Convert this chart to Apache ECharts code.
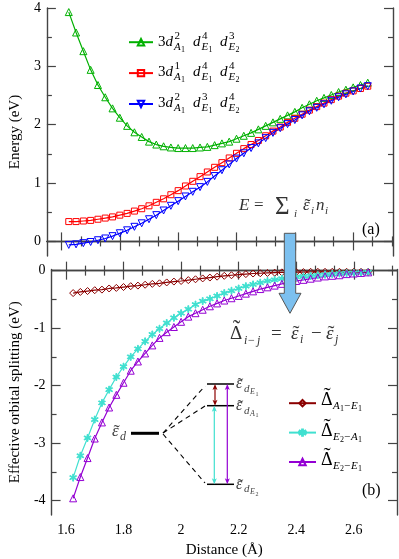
<!DOCTYPE html>
<html>
<head>
<meta charset="utf-8">
<script src="https://cdn.jsdelivr.net/npm/echarts@6/dist/echarts.min.js"></script>
<style>
html, body { margin: 0; padding: 0; background: #fff; }
#chart { width: 399px; height: 559px; }
</style>
</head>
<body>
<div id="chart"></div>
<script>
// Distance (Å)
const dist = [1.625, 1.65, 1.675, 1.7, 1.725, 1.75, 1.775, 1.8, 1.825, 1.85, 1.875, 1.9, 1.925, 1.95, 1.975, 2.0,
	2.025, 2.05, 2.075, 2.1, 2.125, 2.15, 2.175, 2.2, 2.225, 2.25, 2.275, 2.3, 2.325, 2.35, 2.375, 2.4,
	2.425, 2.45, 2.475, 2.5, 2.525, 2.55, 2.575, 2.6, 2.625, 2.65];

// (a) energies (eV)
const eGreen = [3.93, 3.58, 3.26, 2.94, 2.68, 2.47, 2.28, 2.12, 1.98, 1.87, 1.79, 1.71, 1.66, 1.63, 1.61, 1.60,
	1.60, 1.60, 1.61, 1.62, 1.65, 1.68, 1.71, 1.76, 1.81, 1.86, 1.92, 1.98, 2.04, 2.10, 2.16, 2.22,
	2.29, 2.35, 2.41, 2.46, 2.51, 2.56, 2.60, 2.64, 2.68, 2.72];
const eRed = [0.34, 0.34, 0.35, 0.36, 0.38, 0.40, 0.42, 0.45, 0.48, 0.52, 0.56, 0.61, 0.67, 0.73, 0.80, 0.87,
	0.95, 1.03, 1.11, 1.19, 1.27, 1.35, 1.43, 1.51, 1.59, 1.66, 1.73, 1.81, 1.89, 1.96, 2.04, 2.11,
	2.18, 2.25, 2.31, 2.37, 2.43, 2.49, 2.54, 2.58, 2.62, 2.66];
const eBlue = [-0.06, -0.05, -0.03, -0.01, 0.02, 0.05, 0.09, 0.14, 0.19, 0.25, 0.31, 0.38, 0.45, 0.53, 0.61, 0.69,
	0.77, 0.85, 0.93, 1.02, 1.12, 1.22, 1.32, 1.42, 1.51, 1.60, 1.68, 1.77, 1.86, 1.94, 2.01, 2.08,
	2.16, 2.23, 2.29, 2.35, 2.41, 2.47, 2.52, 2.57, 2.62, 2.66];

// (b) effective orbital splitting (eV)
const dA1E1 = [-0.39, -0.37, -0.355, -0.34, -0.33, -0.31, -0.30, -0.285, -0.27, -0.26, -0.245, -0.23, -0.22, -0.205, -0.19, -0.18,
	-0.165, -0.15, -0.135, -0.12, -0.105, -0.09, -0.08, -0.07, -0.06, -0.05, -0.045, -0.04, -0.035, -0.03, -0.03, -0.025,
	-0.025, -0.02, -0.02, -0.02, -0.02, -0.02, -0.02, -0.02, -0.02, -0.02];
const dE2A1 = [-3.60, -3.22, -2.91, -2.59, -2.30, -2.07, -1.85, -1.67, -1.50, -1.36, -1.23, -1.11, -1.01, -0.91, -0.82, -0.74,
	-0.67, -0.59, -0.53, -0.49, -0.44, -0.39, -0.35, -0.31, -0.27, -0.24, -0.21, -0.18, -0.16, -0.14, -0.12, -0.11,
	-0.10, -0.09, -0.08, -0.07, -0.06, -0.05, -0.045, -0.04, -0.035, -0.03];
const dE2E1 = [-3.96, -3.59, -3.26, -2.92, -2.64, -2.38, -2.16, -1.95, -1.74, -1.58, -1.44, -1.30, -1.17, -1.07, -0.98, -0.89,
	-0.80, -0.74, -0.68, -0.62, -0.57, -0.52, -0.48, -0.44, -0.40, -0.36, -0.32, -0.29, -0.26, -0.23, -0.20, -0.18,
	-0.16, -0.14, -0.12, -0.10, -0.09, -0.08, -0.06, -0.05, -0.04, -0.03];

// ticks
const xMajor = [1.6, 1.8, 2.0, 2.2, 2.4, 2.6];
const xMinor = [1.6667, 1.7333, 1.8667, 1.9333, 2.0667, 2.1333, 2.2667, 2.3333, 2.4667, 2.5333, 2.6667, 2.7333];
const yMajorA = [0, 1, 2, 3, 4];
const yMinorA = [0.5, 1.5, 2.5, 3.5];
const yMajorB = [-4, -3, -2, -1, 0];
const yMinorB = [-3.5, -2.5, -1.5, -0.5];

const FONT = 'Liberation Serif';
const FRAME = '#444';
const pairs = (ys) => dist.map((x, i) => [x, ys[i]]);

// 四条轴：主刻度/次刻度 × 两侧
const axisSet = (gi, min, max, major, minor, sides, label) => {
	const base = { type: 'value', gridIndex: gi, min: min, max: max, splitLine: { show: false } };
	const out = [];
	sides.forEach((side, si) => {
		out.push(Object.assign({}, base, {
			position: side,
			axisLine: { show: true, lineStyle: { color: FRAME, width: 1.4 } },
			axisTick: { inside: true, length: 9, customValues: major, lineStyle: { color: FRAME, width: 1.2 } },
			axisLabel: si === 0 && label.show
				? { customValues: major, color: '#000', fontFamily: FONT, fontSize: 14, margin: label.margin }
				: { show: false },
			name: si === 0 ? label.name : '',
			nameLocation: 'middle',
			nameGap: label.nameGap,
			nameTextStyle: { fontFamily: FONT, fontSize: 15, color: '#000' }
		}));
		out.push(Object.assign({}, base, {
			position: side,
			axisLine: { show: false },
			axisTick: { inside: true, length: 5, customValues: minor, lineStyle: { color: FRAME, width: 1.2 } },
			axisLabel: { show: false }
		}));
	});
	return out;
};

// 文字片段：[text, dx, dy, size, italic, align]
const mathText = (x, y, parts, color) => ({
	type: 'group', x: x, y: y, z: 60,
	children: parts.map(p => ({
		type: 'text', x: p[1], y: p[2],
		style: {
			text: p[0], fontSize: p[3], fontStyle: p[4] ? 'italic' : 'normal', fontFamily: FONT,
			fill: color || '#000', align: p[5] || 'left', verticalAlign: 'middle'
		}
	}))
});
// 小写字母上的波浪号 / 大写 Δ 上的波浪号
const tl = (dx, dy, fs) => ['˜', dx, dy + fs * 0.05, fs * 1.1, 0, 'center'];
const tc = (dx, dy, fs) => ['˜', dx, dy - fs * 0.2, fs * 1.2, 0, 'center'];

const cfgLabel = (a, e1, e2) => [
	['3', 0, 0, 15], ['d', 7.5, 0, 15, 1], [a, 16.5, -6, 11], ['A', 16, 5, 11, 1], ['1', 23, 8, 8],
	['d', 35, 0, 15, 1], [e1, 44, -6, 11], ['E', 43.5, 5, 11, 1], ['1', 50.5, 8, 8],
	['d', 62, 0, 15, 1], [e2, 71, -6, 11], ['E', 70.5, 5, 11, 1], ['2', 77.5, 8, 8]
];

const deltaLabel = (a, a1, b, b1) => [
	['Δ', 0, 0, 18], tc(6, 0, 18), [a, 12, 6, 11, 1], [a1, 19, 9, 8], ['−', 23, 6, 11], [b, 30, 6, 11, 1], [b1, 37, 9, 8]
];

const epsLevel = (s) => [['ε', 0, 0, 16, 1], tl(4.5, 0, 16), ['d', 8, 5, 11, 1], [s[0], 14, 8, 8, 1], [s[1], 19.5, 10, 6]];

const dblArrow = (x, y1, y2, color) => [
	{ type: 'line', z: 60, shape: { x1: x, y1: y1 + 4, x2: x, y2: y2 - 4 }, style: { stroke: color, lineWidth: 1.2 } },
	{ type: 'polygon', z: 60, shape: { points: [[x, y1], [x - 2.5, y1 + 6], [x, y1 + 4.5], [x + 2.5, y1 + 6]] }, style: { fill: color } },
	{ type: 'polygon', z: 60, shape: { points: [[x, y2], [x - 2.5, y2 - 6], [x, y2 - 4.5], [x + 2.5, y2 - 6]] }, style: { fill: color } }
];

const dashed = (x1, y1, x2, y2) => ({
	type: 'line', z: 60, shape: { x1: x1, y1: y1, x2: x2, y2: y2 },
	style: { stroke: '#000', lineWidth: 1.1, lineDash: [5, 4] }
});
const level = (y) => ({ type: 'line', z: 60, shape: { x1: 207, y1: y, x2: 234, y2: y }, style: { stroke: '#000', lineWidth: 1.5 } });

const starPath = 'path://M-1.2,-10L1.2,-10L1.2,10L-1.2,10Z M8.06,6.04L9.26,3.96L-8.06,-6.04L-9.26,-3.96Z M9.26,-3.96L8.06,-6.04L-9.26,3.96L-8.06,6.04Z';

const lineSeries = (name, gi, ys, color, symbol, size) => ({
	name: name, type: 'line', xAxisIndex: gi * 4, yAxisIndex: gi * 4,
	data: pairs(ys), symbol: symbol, symbolSize: size, showAllSymbol: true,
	lineStyle: { color: color, width: 1.2 },
	itemStyle: { color: symbol === starPath ? color : 'rgba(255,255,255,0)', borderColor: color, borderWidth: 1 },
	emphasis: { disabled: true }, animation: false
});

const chart = echarts.init(document.getElementById('chart'));
chart.setOption({
	backgroundColor: '#fff',
	animation: false,
	grid: [
		{ left: 38, top: 8, width: 355, height: 248 },
		{ left: 38, top: 269.5, width: 359, height: 247 }
	],
	xAxis: [].concat(
		axisSet(0, 1.55, 2.7365, xMajor, xMinor, ['bottom', 'top'], { show: false, name: '' }),
		axisSet(1, 1.55, 2.75, xMajor, xMinor, ['bottom', 'top'], { show: true, margin: 8, name: 'Distance (Å)', nameGap: 28 })
	),
	yAxis: [].concat(
		axisSet(0, -0.25, 4, yMajorA, yMinorA, ['left', 'right'], { show: true, margin: 6, name: 'Energy (eV)', nameGap: 20 }),
		axisSet(1, -4.25, 0.02, yMajorB, yMinorB, ['left', 'right'], { show: true, margin: 6, name: 'Effective orbital splitting (eV)', nameGap: 22 })
	),
	legend: [
		{
			left: 128, top: 38, orient: 'vertical', padding: 0, itemGap: 22.5, itemWidth: 24, itemHeight: 8,
			selectedMode: false, formatter: () => '', textStyle: { fontSize: 8, lineHeight: 8 },
			data: ['cfgA', 'cfgB', 'cfgC']
		},
		{
			left: 288, top: 399, orient: 'vertical', padding: 0, itemGap: 21, itemWidth: 27, itemHeight: 8,
			selectedMode: false, formatter: () => '', textStyle: { fontSize: 8, lineHeight: 8 },
			data: ['dA1E1', 'dE2A1', 'dE2E1']
		}
	],
	series: [
		lineSeries('cfgA', 0, eGreen, '#00b000', 'triangle', 7),
		lineSeries('cfgB', 0, eRed, '#ff0000', 'rect', 6),
		lineSeries('cfgC', 0, eBlue, '#0000ff', 'path://M-5,-4L5,-4L0,5Z', 7),
		lineSeries('dA1E1', 1, dA1E1, '#8b0000', 'diamond', 7),
		lineSeries('dE2A1', 1, dE2A1, '#40e0d0', starPath, 7),
		lineSeries('dE2E1', 1, dE2E1, '#9400d3', 'triangle', 7)
	],
	graphic: {
		elements: [
			mathText(158, 42, cfgLabel('2', '4', '3')),
			mathText(158, 72, cfgLabel('1', '4', '4')),
			mathText(158, 103, cfgLabel('2', '3', '4')),

			mathText(239, 206, [
				['E', 0, 0, 17, 1], ['=', 15, 0, 17], ['Σ', 36, 1, 25], ['i', 55, 8, 11, 1],
				['ε', 64, 0, 17, 1], tl(68.5, 0, 17), ['i', 72, 5, 11, 1], ['n', 77, 0, 17, 1], ['i', 86, 5, 11, 1]
			], '#333'),
			mathText(362, 230, [['(a)', 0, 0, 16]]),
			mathText(362, 491, [['(b)', 0, 0, 16]]),

			// 蓝色箭头
			{
				type: 'polygon', z: 80,
				shape: { points: [[284.3, 233.3], [295.7, 233.3], [295.7, 293.3], [301, 293.3], [290, 313.3], [279, 293.3], [284.3, 293.3]] },
				style: { fill: '#7cc0ef', stroke: '#555', lineWidth: 1 }
			},

			mathText(230, 334, [
				['Δ', 0, 0, 19], tc(6.5, 0, 19), ['i', 14, 7, 12, 1], ['−', 18, 7, 12], ['j', 27, 7, 12, 1],
				['=', 41, 0, 19], ['ε', 61, 0, 19, 1], tl(66, 0, 19), ['i', 70, 6, 12, 1],
				['−', 81, 0, 19], ['ε', 96, 0, 19, 1], tl(101, 0, 19), ['j', 105, 6, 12, 1]
			], '#333'),

			// 能级示意
			mathText(112, 432, [['ε', 0, 0, 17, 1], tl(4.5, 0, 17), ['d', 8, 5, 12, 1]], '#444'),
			{ type: 'line', z: 60, shape: { x1: 131, y1: 433.3, x2: 159, y2: 433.3 }, style: { stroke: '#000', lineWidth: 3 } },
			dashed(163, 433, 205, 386),
			dashed(163, 433, 205, 406),
			dashed(163, 434, 205, 483),
			level(384), level(405.7), level(484.3)
		].concat(
			dblArrow(215, 384, 405.7, '#8b0000'),
			dblArrow(214.3, 405.7, 484.3, '#40e0d0'),
			dblArrow(227.3, 384, 484.3, '#9400d3'),
			[
				mathText(236, 384, epsLevel('E1'), '#444'),
				mathText(236, 405.7, epsLevel('A1'), '#444'),
				mathText(236, 484.3, epsLevel('E2'), '#444'),
				mathText(321, 400, deltaLabel('A', '1', 'E', '1')),
				mathText(321, 431, deltaLabel('E', '2', 'A', '1')),
				mathText(321, 460, deltaLabel('E', '2', 'E', '1'))
			]
		)
	}
});
</script>
</body>
</html>
